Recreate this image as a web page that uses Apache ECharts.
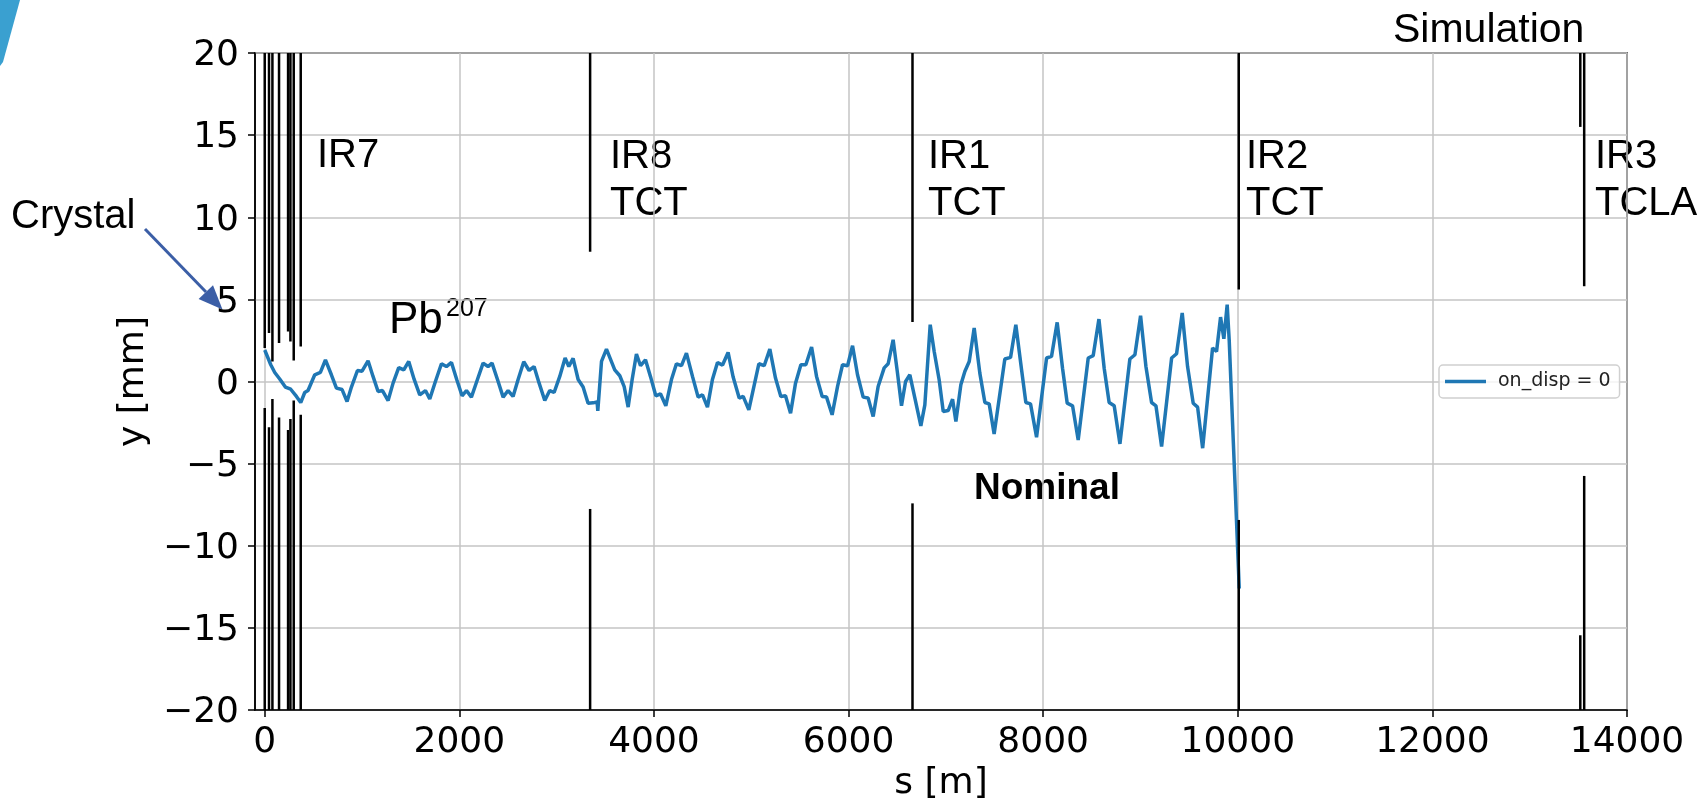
<!DOCTYPE html>
<html>
<head>
<meta charset="utf-8">
<title>Pb207 orbit</title>
<script src="https://cdn.jsdelivr.net/npm/echarts@6/dist/echarts.min.js"></script>
<style>
  html, body { margin: 0; padding: 0; background: #fff; }
  #main { width: 1706px; height: 802px; }
</style>
</head>
<body>
<div id="main"></div>
<script>
// orbit along the ring, s in m, y in mm
const orbitS = [
  0, 20, 62, 103, 154, 212, 267, 326, 370, 411, 445, 514, 572, 624, 685, 737, 795, 846, 891, 953,
  1000, 1062, 1113, 1165, 1210, 1268, 1319, 1377, 1429, 1480, 1535, 1593, 1652, 1696, 1754, 1816, 1867, 1919, 1973,
  2028, 2073, 2124, 2186, 2244, 2295, 2336, 2392, 2450, 2501, 2552, 2604, 2662, 2717, 2768, 2820, 2878, 2929, 2974,
  3032, 3087, 3125, 3169, 3221, 3272, 3323, 3375, 3416, 3423, 3461, 3512, 3597, 3649, 3694, 3735, 3776, 3820, 3862, 3913, 3964,
  4019, 4067, 4122, 4180, 4231, 4283, 4334, 4396, 4454, 4499, 4550, 4601, 4653, 4705, 4762, 4814, 4876, 4917, 4975,
  5078, 5133, 5191, 5249, 5304, 5352, 5404, 5455, 5510, 5561, 5620, 5671, 5729, 5774, 5831, 5887, 5938, 5990,
  6041, 6092, 6150, 6201, 6253, 6304, 6366, 6407, 6458, 6503, 6544, 6586, 6630, 6681, 6743, 6784, 6839, 6880, 6931, 6973,
  7024, 7069, 7103, 7154, 7195, 7240, 7291, 7349, 7401, 7445, 7496, 7606, 7665, 7719, 7778, 7822, 7870, 7932,
  8035, 8086, 8144, 8199, 8247, 8302, 8360, 8463, 8514, 8573, 8627, 8678, 8730, 8789, 8891, 8943,
  9001, 9056, 9114, 9159, 9217, 9320, 9371, 9429, 9484, 9542, 9587, 9639, 9741, 9782, 9823, 9857, 9891, 9912, 10015
];
const orbitY = [
  1.92, 2.01, 1.02, 0.55, 0.15, -0.34, -0.47, -0.91, -1.28, -0.67, -0.55, 0.41, 0.55, 1.32, 0.41, -0.40, -0.49, -1.22, -0.34, 0.67,
  0.63, 1.26, 0.31, -0.61, -0.55, -1.16, -0.10, 0.85, 0.71, 1.22, 0.14, -0.81, -0.55, -1.07, 0.0, 1.08, 0.91, 1.16, 0.12,
  -0.87, -0.55, -0.95, 0.12, 1.12, 0.91, 1.12, 0.12, -0.95, -0.55, -0.91, 0.12, 1.20, 0.67, 0.91, -0.10, -1.16, -0.55, -0.67,
  0.31, 1.43, 0.91, 1.41, 0.12, -0.34, -1.32, -1.30, -1.24, -1.79, 1.22, 1.97, 0.71, 0.35, -0.31, -1.56, 0.12, 1.67, 0.96, 1.32, 0.31,
  -0.87, -0.75, -1.48, 0.12, 1.08, 0.96, 1.73, 0.31, -0.95, -0.81, -1.56, 0.12, 1.16, 1.00, 1.77, 0.27, -1.01, -0.91, -1.73,
  1.08, 0.96, 1.97, 0.21, -0.91, -0.87, -1.93, -0.10, 1.02, 1.02, 2.10, 0.31, -0.91, -0.95, -2.03, -0.30, 1.02, 0.96,
  2.18, 0.41, -0.95, -1.00, -2.13, -0.30, 0.83, 1.08, 2.54, 0.51, -1.48, 0.0, 0.41, -1.00, -2.70, -1.42, 3.46, 1.83, 0.11, -1.83,
  -1.77, -1.08, -2.44, -0.20, 0.61, 1.22, 3.26, 0.51, -1.28, -1.36, -3.19, 1.37, 1.47, 3.46, 0.71, -1.28, -1.36, -3.39,
  1.43, 1.53, 3.60, 0.81, -1.32, -1.48, -3.56, 1.43, 1.57, 3.80, 0.81, -1.28, -1.48, -3.80, 1.37, 1.63,
  4.01, 0.91, -1.28, -1.48, -3.96, 1.43, 1.69, 4.17, 0.91, -1.32, -1.56, -4.06, 2.04, 1.83, 3.92, 2.60, 4.68, 2.50, -12.6
];

// collimator jaws: position and the inner edge of upper / lower jaw (mm)
const collS = [0, 44, 79, 147, 240, 264, 298, 370, 3344, 6657, 10010, 13520, 13560];
const collUpper = [2.04, 2.95, 1.22, 2.34, 3.05, 2.44, 1.28, 2.13, 7.9, 3.62, 5.6, 15.5, 5.8];
const collLower = [-1.62, -2.78, -1.07, -2.19, -2.95, -2.29, -1.16, -2.03, -7.76, -7.42, -8.43, -15.45, -5.75];

const xTicks = [0, 2000, 4000, 6000, 8000, 10000, 12000, 14000];

const orbitData = orbitS.map((s, i) => [s, orbitY[i]]);
const jawData = [];
collS.forEach((s, i) => {
  jawData.push([s, 20, collUpper[i]]);
  jawData.push([s, collLower[i], -20]);
});

const tickFont = { fontFamily: 'DejaVu Sans', fontSize: 36, color: '#000' };
const annFont = 'Liberation Sans';

const myChart = echarts.init(document.getElementById('main'), null, { renderer: 'canvas' });

const option = {
  animation: false,
  backgroundColor: '#fff',
  grid: {
    left: 255, top: 53, width: 1372, height: 657,
    containLabel: false,
    outerBoundsMode: 'none',
    show: true, borderColor: '#000', borderWidth: 1.5, backgroundColor: 'transparent'
  },
  legend: {
    left: 1439, top: 365,
    data: [{ name: 'on_disp = 0', icon: 'rect' }],
    itemWidth: 41, itemHeight: 3.5,
    padding: [7, 9, 7, 6],
    backgroundColor: 'rgba(255,255,255,0.8)',
    borderColor: '#d0d0d0', borderWidth: 1.5, borderRadius: 4,
    textStyle: { fontFamily: 'DejaVu Sans', fontSize: 19, color: '#222', padding: [0, 0, 0, 7], lineHeight: 19 }
  },
  xAxis: {
    type: 'value', min: -100, max: 14000,
    name: 's [m]', nameLocation: 'middle', nameGap: 55,
    nameTextStyle: tickFont,
    axisLine: { onZero: false, lineStyle: { color: '#000', width: 1.5 } },
    axisTick: { show: true, length: 7, customValues: xTicks, lineStyle: { color: '#000', width: 1.5 } },
    axisLabel: Object.assign({
      customValues: xTicks, margin: 15,
      formatter: (v) => String(v)
    }, tickFont),
    splitLine: { show: true, lineStyle: { color: '#c4c4c4', width: 1.5 } }
  },
  yAxis: {
    type: 'value', min: -20, max: 20, interval: 5,
    name: 'y [mm]', nameLocation: 'middle', nameGap: 100,
    nameTextStyle: tickFont,
    axisLine: { onZero: false, lineStyle: { color: '#000', width: 1.5 } },
    axisTick: { show: true, length: 7, lineStyle: { color: '#000', width: 1.5 } },
    axisLabel: Object.assign({
      margin: 16,
      formatter: (v) => '{v|' + String(v).replace('-', '\u2212') + '}',
      rich: { v: { fontFamily: 'DejaVu Sans', fontSize: 36, color: '#000', padding: [6, 0, 0, 0] } }
    }, tickFont),
    splitLine: { show: true, lineStyle: { color: '#c4c4c4', width: 1.5 } }
  },
  series: [
    {
      name: 'on_disp = 0',
      type: 'line',
      data: orbitData,
      symbol: 'none',
      lineStyle: { color: '#1f77b4', width: 3.5 },
      itemStyle: { color: '#1f77b4' },
      z: 3
    },
    {
      name: 'jaws',
      type: 'custom',
      data: jawData,
      encode: { x: 0, y: [1, 2] },
      clip: true,
      z: 4,
      renderItem: (params, api) => {
        const s = api.value(0);
        const p0 = api.coord([s, api.value(1)]);
        const p1 = api.coord([s, api.value(2)]);
        return {
          type: 'line',
          shape: { x1: p0[0], y1: p0[1], x2: p1[0], y2: p1[1] },
          style: { stroke: '#000', lineWidth: 2.5 }
        };
      }
    }
  ],
  graphic: [
    // slide decoration in the corner
    { type: 'polygon', shape: { points: [[0, 0], [20, 0], [3, 62], [0, 66]] }, style: { fill: '#3aa0d0' } },
    { type: 'text', x: 1393, y: 31, style: { text: 'Simulation', fontFamily: annFont, fontSize: 41, fill: '#000', align: 'left', verticalAlign: 'middle' } },
    { type: 'text', x: 317, y: 156, style: { text: 'IR7', fontFamily: annFont, fontSize: 40, fill: '#000', align: 'left', verticalAlign: 'middle' } },
    { type: 'text', x: 610, y: 180, style: { text: 'IR8\nTCT', lineHeight: 47, fontFamily: annFont, fontSize: 40, fill: '#000', align: 'left', verticalAlign: 'middle' } },
    { type: 'text', x: 928, y: 180, style: { text: 'IR1\nTCT', lineHeight: 47, fontFamily: annFont, fontSize: 40, fill: '#000', align: 'left', verticalAlign: 'middle' } },
    { type: 'text', x: 1246, y: 180, style: { text: 'IR2\nTCT', lineHeight: 47, fontFamily: annFont, fontSize: 40, fill: '#000', align: 'left', verticalAlign: 'middle' } },
    { type: 'text', x: 1595, y: 180, style: { text: 'IR3\nTCLA', lineHeight: 47, fontFamily: annFont, fontSize: 40, fill: '#000', align: 'left', verticalAlign: 'middle' } },
    { type: 'text', x: 11, y: 217, style: { text: 'Crystal', fontFamily: annFont, fontSize: 40, fill: '#000', align: 'left', verticalAlign: 'middle' } },
    { type: 'text', x: 389, y: 321, style: { text: 'Pb', fontFamily: annFont, fontSize: 44, fill: '#000', align: 'left', verticalAlign: 'middle' } },
    { type: 'text', x: 446, y: 309, style: { text: '207', fontFamily: annFont, fontSize: 25, fill: '#000', align: 'left', verticalAlign: 'middle' } },
    { type: 'text', x: 974, y: 489, style: { text: 'Nominal', fontFamily: annFont, fontSize: 37, fontWeight: 'bold', fill: '#000', align: 'left', verticalAlign: 'middle' } },
    // arrow from the Crystal label
    { type: 'line', shape: { x1: 145, y1: 229, x2: 206, y2: 292 }, style: { stroke: '#3b5ea6', lineWidth: 3 } },
    { type: 'polygon', shape: { points: [[222.5, 309.5], [198.6, 299.1], [213.0, 285.3]] }, style: { fill: '#3b5ea6' } }
  ]
};

myChart.setOption(option);
</script>
</body>
</html>
